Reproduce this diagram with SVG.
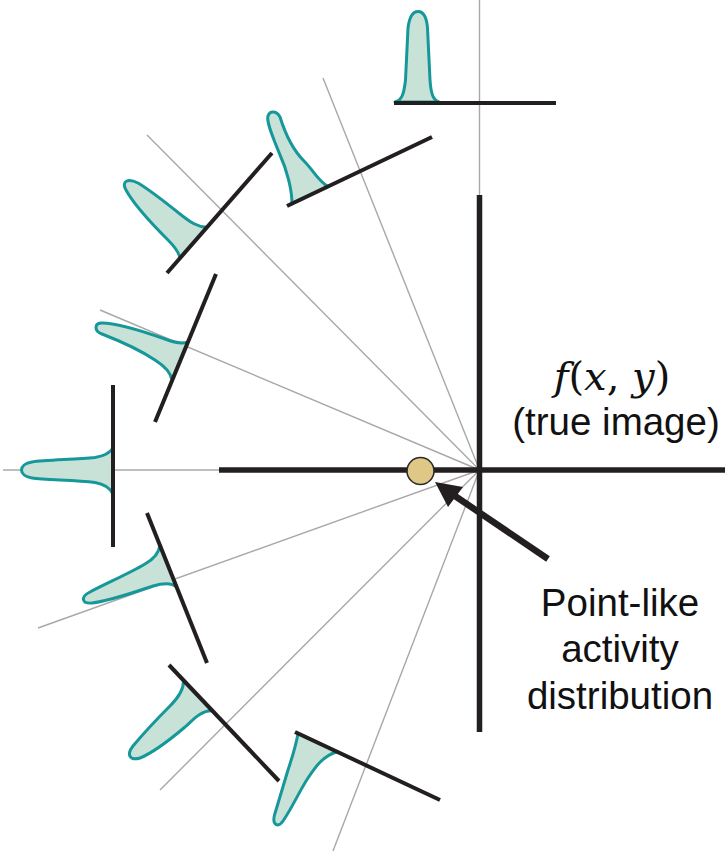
<svg xmlns="http://www.w3.org/2000/svg" width="725" height="851" viewBox="0 0 725 851">
<defs>
<style>
.ray{stroke:#a8a8a8;stroke-width:1.4;fill:none}
.axis{stroke:#231f20;stroke-width:5.5;fill:none}
.det{stroke:#231f20;stroke-width:4;stroke-linecap:butt;fill:none}
.prof{fill:#c9e2d7;stroke:#16979a;stroke-width:3;stroke-linejoin:round}
.lbl{font-family:"Liberation Sans",Arial,sans-serif;font-size:38.5px;fill:#111}
</style>
</defs>
<rect width="725" height="851" fill="#fff"/>
<g id="rays">
<line class="ray" x1="479.5" y1="470" x2="479.5" y2="0"/>
<line class="ray" x1="479.5" y1="470" x2="323" y2="78"/>
<line class="ray" x1="479.5" y1="470" x2="147" y2="135"/>
<line class="ray" x1="479.5" y1="470" x2="100" y2="310"/>
<line class="ray" x1="479.5" y1="470" x2="3" y2="470"/>
<line class="ray" x1="479.5" y1="470" x2="38" y2="628"/>
<line class="ray" x1="479.5" y1="470" x2="160" y2="790"/>
<line class="ray" x1="479.5" y1="470" x2="333" y2="851"/>
</g>
<g id="axes">
<line class="axis" x1="219" y1="470" x2="725" y2="470"/>
<line class="axis" x1="479.5" y1="195" x2="479.5" y2="732"/>
</g>
<g id="proj0">
<path class="prof" d="M395,102 C402,100 404,94 405.5,80 L408,28 C409.5,16 413,11.5 418,11.5 C423,11.5 426.5,16 427.5,28 L430,80 C431,94 433,100 439,102 Z"/>
<line class="det" x1="394" y1="103" x2="556" y2="103"/>
</g>
<g id="proj1">
<path class="prof" d="M292,203.5 C292,190 287,170 280,155 C274,140 266,122 268,116 C270,110 277,111 280,117 C285,133 293,150 304,161 C314,171 318,181 328,186.5 Z"/>
<line class="det" x1="287" y1="206" x2="432" y2="137"/>
</g>
<g id="proj2">
<path class="prof" d="M207,227.3 C197,227 190,222 180,214 C165,202 150,190 138,183 C128,178 121,181 126,190 C134,205 152,224 168,240 C176,248 179,253 180,258 Z"/>
<line class="det" x1="167" y1="273" x2="272" y2="153"/>
</g>
<g id="proj3">
<path class="prof" d="M188,342 C182,344 175,343 165,339 C145,332 118,323 102,323 C94,323 94,331 102,334 C120,341 140,350 155,360 C166,367 171,373 172,380 Z"/>
<line class="det" x1="216" y1="274" x2="155" y2="422"/>
</g>
<g id="proj4">
<path class="prof" d="M113,448 C110,453 104,456 95,457.5 C75,459.5 45,460 32,462 C18,464 18,476 32,478 C45,480 75,480 95,482.5 C104,484 110,488 113,494 Z"/>
<line class="det" x1="113" y1="385" x2="113" y2="547"/>
</g>
<g id="proj5">
<path class="prof" d="M160,545 C159,553 154,559 145,564 C130,573 105,584 90,592 C80,597 82,604 92,603 C110,601 135,592 153,586 C163,583 171,582 176.6,587 Z"/>
<line class="det" x1="147" y1="513" x2="207" y2="663"/>
</g>
<g id="proj6">
<path class="prof" d="M183.5,680.5 C184,690 178,698 170,706 C158,718 143,734 133,746 C126,755 130,761 140,758 C155,752 172,738 185,727 C194,719 200,711 212,710.5 Z"/>
<line class="det" x1="169" y1="665" x2="279" y2="781"/>
</g>
<g id="proj7">
<path class="prof" d="M298,733.4 C296,745 292,758 288,770 C283,787 278,803 274.5,815 C272,825 278,828 283,821 C292,808 300,790 308,778 C316,766 323,756 337,751.7 Z"/>
<line class="det" x1="295" y1="732" x2="440" y2="800"/>
</g>
<g id="source">
<circle cx="420.5" cy="471" r="13.5" fill="#dfc886" stroke="#2b2b2b" stroke-width="1.6"/>
</g>
<g id="connectors">
<line x1="548" y1="559" x2="455" y2="496" stroke="#231f20" stroke-width="6.5"/>
<polygon points="435,482 448,507 463,487" fill="#231f20"/>
</g>
<g id="label-image">
<text x="612" y="390" text-anchor="middle" font-family="'DejaVu Serif',serif" font-size="40" fill="#111"><tspan font-style="italic">f</tspan>(<tspan font-style="italic">x</tspan>, <tspan font-style="italic">y</tspan>)</text>
<text class="lbl" x="616" y="435" text-anchor="middle">(true image)</text>
</g>
<g id="label-source">
<text class="lbl" x="620" y="616" text-anchor="middle">Point-like</text>
<text class="lbl" x="620" y="662" text-anchor="middle">activity</text>
<text class="lbl" x="620" y="709" text-anchor="middle">distribution</text>
</g>
</svg>
